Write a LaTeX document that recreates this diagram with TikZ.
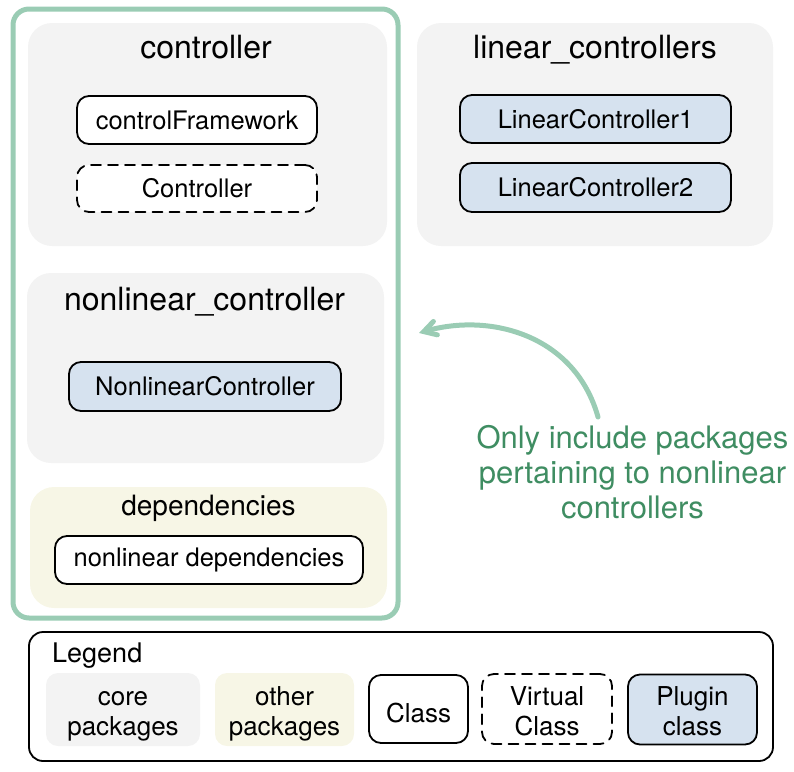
\documentclass[tikz,border=0pt]{standalone}
\usepackage{fontspec}
\setmainfont{TeX Gyre Heros}
\usetikzlibrary{arrows}
\definecolor{pkggray}{rgb}{0.953,0.953,0.953}
\definecolor{pkgyellow}{rgb}{0.969,0.965,0.902}
\definecolor{plugblue}{rgb}{0.839,0.886,0.937}
\definecolor{framegreen}{rgb}{0.604,0.800,0.706}
\definecolor{notegreen}{rgb}{0.247,0.553,0.384}

\begin{document}
\begin{tikzpicture}[line cap=round,line join=round,>=angle 60,x=1pt,y=-1pt,
    pkg/.style={fill=pkggray,rounded corners=24pt,inner sep=0pt},
    otherpkg/.style={pkg,fill=pkgyellow},
    cls/.style={draw,line width=1.8pt,fill=white,rounded corners=12pt,inner sep=0pt,font=\fontsize{25.5}{30}\selectfont},
    virtcls/.style={cls,dash pattern=on 10pt off 7pt},
    plugcls/.style={cls,fill=plugblue},
    pkgtitle/.style={anchor=base,inner sep=0pt,font=\fontsize{32}{36}\selectfont},
    legitem/.style={align=center,inner sep=0pt,rounded corners=12pt,font=\fontsize{26}{30}\selectfont,
      text height=61pt,text depth=9pt}]
      \useasboundingbox (0,0) rectangle (794,771);
      \node [draw=framegreen,line width=5pt,rounded corners=16pt,minimum width=385pt,minimum height=609pt] (incl) at (205.5,313.5) {};
      \node [pkg,minimum width=359pt,minimum height=223pt] (ctrl) at (207.5,134.5) {};
      \node [pkg,minimum width=356pt,minimum height=223pt] (lin) at (595,134.5) {};
      \node [pkg,minimum width=357pt,minimum height=190pt] (nonlin) at (205.5,368) {};
      \node [otherpkg,minimum width=357pt,minimum height=121pt] (deps) at (208.5,547.5) {};
      \node [pkgtitle] (ctrltitle) at (206,58) {controller};
      \node [pkgtitle] (lintitle) at (595,58) {linear\_controllers};
      \node [pkgtitle] (nonlintitle) at (204.5,310) {nonlinear\_controller};
      \node [pkgtitle,font=\fontsize{28}{32}\selectfont] (depstitle) at (208.5,515) {dependencies};
      \node [cls,minimum width=240pt,minimum height=48pt] (cf) at (197,120) {controlFramework};
      \node [virtcls,minimum width=240pt,minimum height=47pt] (vc) at (197,188.5) {Controller};
      \node [plugcls,minimum width=271pt,minimum height=48pt] (lc1) at (595.5,119) {LinearController1};
      \node [plugcls,minimum width=271pt,minimum height=49pt] (lc2) at (595.5,187.5) {LinearController2};
      \node [plugcls,minimum width=272pt,minimum height=49pt] (nlc) at (205,386.5) {NonlinearController};
      \node [cls,minimum width=308pt,minimum height=48pt] (nld) at (209,560) {nonlinear dependencies};
      \coordinate (notefoot) at (598,417);
      \coordinate (notetip) at (419,333);
      \draw [->,color=framegreen,line width=5pt] (notefoot) .. controls (575,335) and (490,312) .. (notetip);
      \node [align=center,color=notegreen,font=\fontsize{31}{35}\selectfont] (note) at (632.5,472) {Only include packages\\pertaining to nonlinear\\controllers};
      \node [draw,line width=1.8pt,rounded corners=14pt,minimum width=744pt,minimum height=129pt] (legend) at (401,696.5) {};
      \node [anchor=base west,inner sep=0pt,font=\fontsize{27}{32}\selectfont] (legtitle) at (52,662) {Legend};
      \node [legitem,fill=pkggray,minimum width=154pt,minimum height=73pt] (legcore) at (123,709.5) {core\\packages};
      \node [legitem,fill=pkgyellow,minimum width=139pt,minimum height=73pt] (legother) at (284.5,709.5) {other\\packages};
      \node [legitem,draw,line width=1.8pt,text height=35pt,minimum width=99pt,minimum height=68pt] (legclass) at (418.5,709) {Class};
      \node [legitem,draw,line width=1.8pt,dash pattern=on 10pt off 7pt,minimum width=130pt,minimum height=70pt] (legvirt) at (547,709) {Virtual\\Class};
      \node [legitem,draw,line width=1.8pt,fill=plugblue,minimum width=129pt,minimum height=69pt] (legplug) at (692.5,709.5) {Plugin\\class};
\end{tikzpicture}
\end{document}
